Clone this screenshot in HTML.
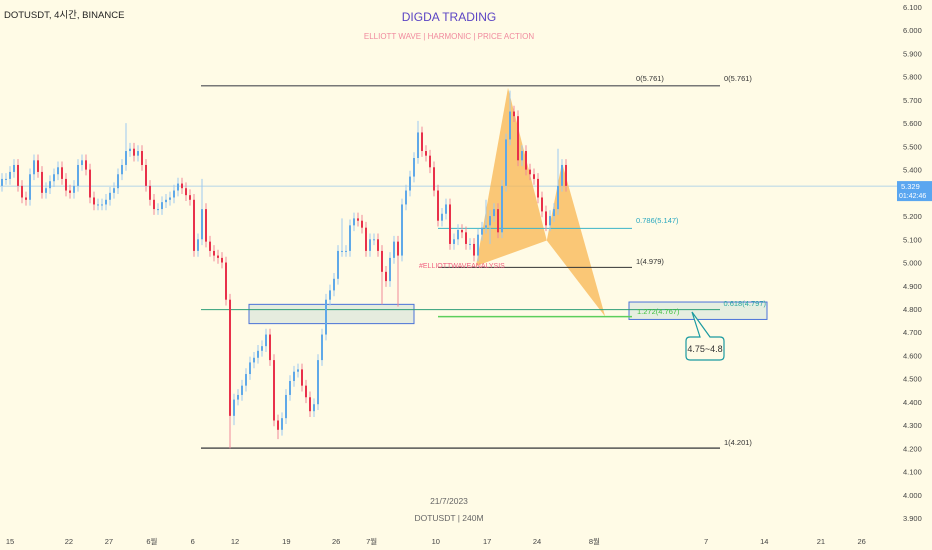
<!DOCTYPE html>
<html><head><meta charset="utf-8">
<style>
html,body{margin:0;padding:0;background:#fffbe6;}
#wrap{position:relative;width:932px;height:550px;overflow:hidden;background:#fffbe6;font-family:"Liberation Sans","Noto Sans CJK KR",sans-serif;}
svg text{font-family:"Liberation Sans","Noto Sans CJK KR",sans-serif;}
</style></head>
<body>
<div id="wrap">
<svg id="chart" width="932" height="550">
  <g id="annot-back"></g>
  <g id="candles"></g>
  <g id="annot-front"></g>
  <g id="yaxis"></g>
  <g id="xaxis"></g>
  <text x="4" y="18" font-size="9.5" fill="#222">DOTUSDT, 4시간, BINANCE</text>
  <text x="449" y="21" font-size="12" fill="#5b44c4" text-anchor="middle">DIGDA TRADING</text>
  <text x="449" y="39" font-size="8" fill="#f08a9e" text-anchor="middle">ELLIOTT WAVE  |  HARMONIC  |  PRICE ACTION</text>
  <text x="449" y="504" font-size="8.5" fill="#666" text-anchor="middle">21/7/2023</text>
  <text x="449" y="521" font-size="8.5" fill="#666" text-anchor="middle">DOTUSDT | 240M</text>
</svg>
</div>
<script>
const closes = [5.36,5.36,5.39,5.42,5.33,5.28,5.27,5.38,5.44,5.39,5.30,5.32,5.35,5.38,5.41,5.36,5.31,5.30,5.33,5.42,5.44,5.40,5.28,5.25,5.25,5.25,5.27,5.30,5.32,5.38,5.42,5.48,5.49,5.46,5.48,5.42,5.33,5.27,5.23,5.23,5.26,5.27,5.28,5.31,5.34,5.32,5.29,5.27,5.05,5.10,5.23,5.09,5.05,5.03,5.02,5.00,4.84,4.34,4.41,4.43,4.47,4.52,4.57,4.59,4.62,4.64,4.69,4.58,4.32,4.28,4.33,4.43,4.49,4.53,4.54,4.47,4.42,4.36,4.39,4.58,4.69,4.84,4.88,4.93,5.05,5.05,5.05,5.16,5.19,5.18,5.15,5.05,5.10,5.10,5.05,4.96,4.92,5.02,5.09,5.03,5.25,5.31,5.37,5.45,5.56,5.48,5.46,5.41,5.31,5.18,5.21,5.25,5.08,5.10,5.14,5.13,5.08,5.08,5.03,5.12,5.15,5.16,5.20,5.23,5.13,5.33,5.53,5.65,5.63,5.44,5.48,5.40,5.38,5.36,5.28,5.22,5.16,5.20,5.23,5.33,5.42,5.33];
const firstOpen = 5.33;
const wickHighs = {50:5.36,31:5.60,104:5.61,127:5.74,139:5.49,121:5.27,85:5.19};
const wickLows = {57:4.20,69:4.24,99:4.81,95:4.82,58:4.30,122:5.08};
const yTicks = [6.1,6.0,5.9,5.8,5.7,5.6,5.5,5.4,5.3,5.2,5.1,5.0,4.9,4.8,4.7,4.6,4.5,4.4,4.3,4.2,4.1,4.0,3.9];
const xTickLabels = ["15","22","27","6월","6","12","19","26","7월","10","17","24","8월","7","14","21","26"];
const xTickDays = [0,7.8,13.1,18.8,24.2,29.8,36.6,43.2,47.9,56.4,63.2,69.8,77.4,92.2,99.9,107.4,112.8];
const lastPrice = 5.329;
const fibLevels = [5.761,4.201];
const patternPrices = [4.985,5.752,5.095,5.43,4.767];
const patternIdx = [118.5,126.5,136.2,140,150.8];

const NS="http://www.w3.org/2000/svg";
function yS(p){return 7+(6.1-p)*232.3;}
function xC(i){return 2+i*4;}
function xD(d){return 10+d*7.55;}
function mk(tag,attrs,parent){const e=document.createElementNS(NS,tag);for(const k in attrs)e.setAttribute(k,attrs[k]);parent.appendChild(e);return e;}

const back=document.getElementById('annot-back');
const front=document.getElementById('annot-front');
const cg=document.getElementById('candles');
const ya=document.getElementById('yaxis');
const xa=document.getElementById('xaxis');

let lp=mk('line',{x1:0,x2:897,y1:yS(lastPrice),y2:yS(lastPrice),stroke:'#9cc9e8','stroke-width':0.8},back);



const P=patternIdx.map((ix,k)=>[xC(ix),yS(patternPrices[k])]);
let t1=mk('polygon',{points:[P[0],P[1],P[2]].map(p=>p.join(',')).join(' '),fill:'#f8b550','fill-opacity':0.75},back);


let t2=mk('polygon',{points:[P[2],P[3],P[4]].map(p=>p.join(',')).join(' '),fill:'#f8b550','fill-opacity':0.75},back);



let b1=mk('rect',{x:249,y:yS(4.82),width:165,height:yS(4.737)-yS(4.82),fill:'#dfe8dc','fill-opacity':0.8,stroke:'#4a72d8','stroke-width':1},back);


let b2=mk('rect',{x:629,y:yS(4.83),width:138,height:yS(4.755)-yS(4.83),fill:'#e3ecdf','fill-opacity':0.9,stroke:'#4a72d8','stroke-width':1},back);



let f0=mk('line',{x1:201,x2:720,y1:yS(fibLevels[0]),y2:yS(fibLevels[0]),stroke:'#777','stroke-width':1.5},back);


let f1=mk('line',{x1:201,x2:720,y1:yS(fibLevels[1]),y2:yS(fibLevels[1]),stroke:'#555','stroke-width':1.5},back);


let f618=mk('line',{x1:201,x2:720,y1:yS(4.797),y2:yS(4.797),stroke:'#2e9e78','stroke-width':1},back);


let f786=mk('line',{x1:438,x2:632,y1:yS(5.147),y2:yS(5.147),stroke:'#3cb4c8','stroke-width':1},back);


let f979=mk('line',{x1:438,x2:632,y1:yS(4.979),y2:yS(4.979),stroke:'#333','stroke-width':1},back);


let f1272=mk('line',{x1:438,x2:632,y1:yS(4.767),y2:yS(4.767),stroke:'#5ccf5c','stroke-width':1.5},back);



let prev=firstOpen;
closes.forEach((c,i)=>{
  const o=prev; prev=c;
  const up=c>=o;
  const hi=wickHighs[i]!==undefined?wickHighs[i]:Math.max(o,c)+0.025;
  const lo=wickLows[i]!==undefined?wickLows[i]:Math.min(o,c)-0.025;
  const col=up?'#5fa8e8':'#e8304a';
  const g=mk('g',{},cg);
  
  
  mk('line',{x1:xC(i),x2:xC(i),y1:yS(hi),y2:yS(lo),stroke:up?'#9ccaf0':'#f08a98','stroke-width':1},g);
  const yt=yS(Math.max(o,c)), yb=yS(Math.min(o,c));
  mk('rect',{x:xC(i)-1,y:yt,width:2,height:Math.max(1,yb-yt),fill:col},g);
});

function lbl(x,y,txt,col,name,anchor){const t=mk('text',{x:x,y:y,'font-size':7.5,fill:col,'text-anchor':anchor||'start'},front);t.textContent=txt;return t;}
lbl(636,81,'0(5.761)','#333','fib-0-label');
lbl(724,81,'0(5.761)','#333','fib-0-label-right');
lbl(724,445,'1(4.201)','#333','fib-1-label');
lbl(636,223,'0.786(5.147)','#2aa8c0','fib-0786-label');
lbl(636,264,'1(4.979)','#333','fib-1-inner-label');
lbl(637,314,'1.272(4.767)','#40c040','fib-1272-label');
lbl(766,306,'0.618(4.797)','#2aa8a0','fib-0618-label','end');
lbl(419,268,'#ELLIOTTWAVEANALYSIS','#f06080','hashtag-label').setAttribute('font-size','7');

let cp=mk('path',{d:'M692 312 L700 337 L690 337 Q686 337 686 341 L686 356 Q686 360 690 360 L720 360 Q724 360 724 356 L724 341 Q724 337 720 337 L710 337 Z',fill:'#fffbe6',stroke:'#1a9aa0','stroke-width':1.2},front);


lbl(705,352,'4.75~4.8','#333','target-callout-text','middle').setAttribute('font-size','9');

yTicks.forEach(v=>{
  const t=mk('text',{x:903,y:yS(v)+3,'font-size':7.5,fill:'#444'},ya);
  t.textContent=v.toFixed(3);
  
  
});
let tag=mk('rect',{x:897,y:yS(lastPrice)-5,width:35,height:20,fill:'#5aa6f0'},ya);


let tg1=mk('text',{x:901,y:yS(lastPrice)+3,'font-size':7.5,fill:'#fff'},ya);tg1.textContent=lastPrice.toFixed(3);


let tg2=mk('text',{x:899,y:yS(lastPrice)+12,'font-size':7,fill:'#fff'},ya);tg2.textContent='01:42:46';



xTickLabels.forEach((l,k)=>{
  const t=mk('text',{x:xD(xTickDays[k]),y:544,'font-size':7.5,fill:'#444','text-anchor':'middle'},xa);
  t.textContent=l;
  
  
});
</script>
</body></html>
